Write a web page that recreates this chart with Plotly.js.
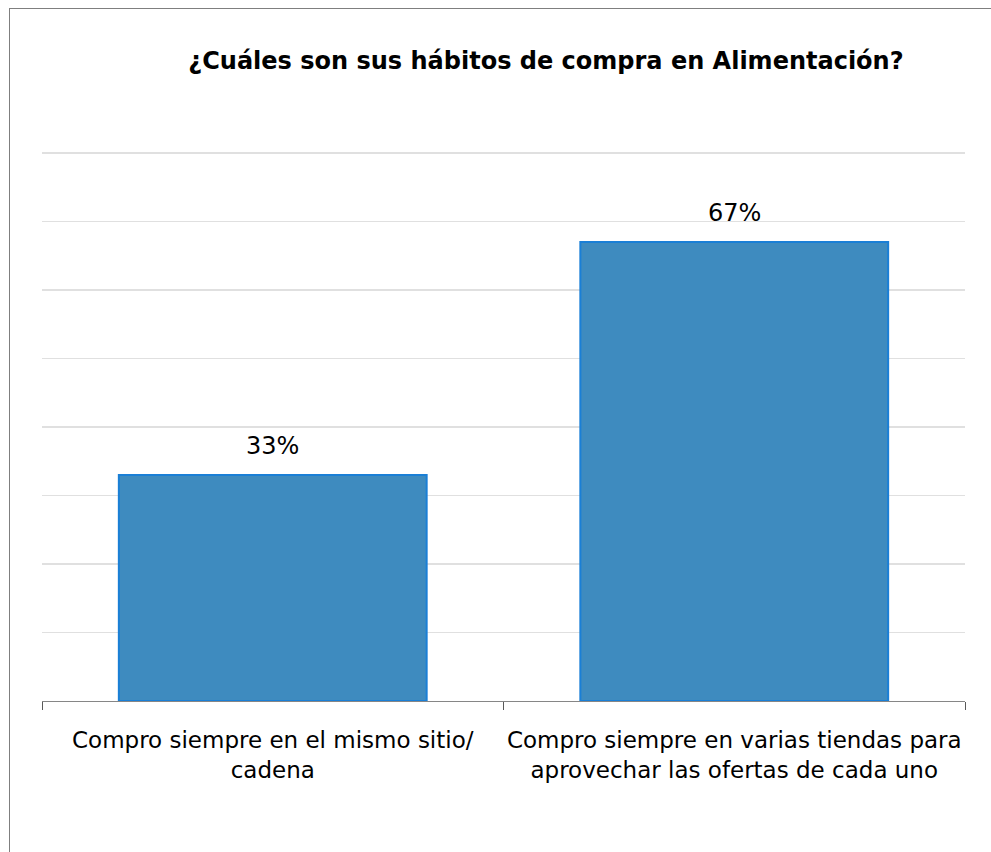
<!DOCTYPE html>
<html>
<head>
<meta charset="utf-8">
<script src="https://cdn.plot.ly/plotly-3.0.1.min.js"></script>
<style>
  html, body { margin: 0; padding: 0; background: #ffffff; overflow: hidden; }
  #frame { position: absolute; left: 9px; top: 8px; width: 1000px; height: 900px; border: 1px solid #7f7f7f; box-sizing: border-box; pointer-events: none; z-index: 5; }
  #chart { position: absolute; left: 0; top: 0; width: 991px; height: 852px; }
</style>
</head>
<body>
<div id="chart"></div>
<div id="frame"></div>
<script>
const categories = [
  "Compro siempre en el mismo sitio/<br>cadena",
  "Compro siempre en varias tiendas para<br>aprovechar las ofertas de cada uno"
];
const values = [33, 67];
const valueLabels = ["33%", "67%"];
const chartTitle = "¿Cuáles son sus hábitos de compra en Alimentación?";

const FONT = "'DejaVu Sans', Verdana, sans-serif";

const trace = {
  type: "bar",
  x: categories,
  y: values,
  marker: { color: "#3e8bbf", line: { color: "#1a7fd6", width: 2 } },
  hoverinfo: "skip"
};

const annotations = categories.map((c, i) => ({
  x: c, y: values[i], xref: "x", yref: "y",
  text: valueLabels[i], showarrow: false,
  yanchor: "bottom", yshift: 13,
  font: { family: FONT, size: 24, color: "#000000" }
}));

const layout = {
  width: 991, height: 852,
  margin: { l: 42, r: 26, t: 152, b: 151 },
  paper_bgcolor: "#ffffff",
  plot_bgcolor: "#ffffff",
  showlegend: false,
  bargap: 0.333,
  title: {
    text: "<b>" + chartTitle + "</b>",
    font: { family: FONT, size: 24, color: "#000000" },
    x: 0.546, xref: "paper", xanchor: "center",
    y: 1 - 61 / 852, yref: "container", yanchor: "middle"
  },
  xaxis: {
    type: "category",
    showgrid: false,
    showline: true, linecolor: "#868686", linewidth: 1,
    ticks: "outside", tickson: "boundaries", ticklen: 8, tickcolor: "#595959", tickwidth: 1,
    tickfont: { family: FONT, size: 23, color: "#000000" },
    tickangle: 0,
    ticklabelstandoff: 18,
    zeroline: false, fixedrange: true
  },
  yaxis: {
    range: [0, 80.15], dtick: 10, tick0: 0,
    showgrid: true, gridcolor: "#e0e0e0", gridwidth: 1.5,
    showticklabels: false, ticks: "",
    showline: false, zeroline: false, fixedrange: true
  },
  annotations: annotations
};

Plotly.newPlot("chart", [trace], layout, { displayModeBar: false, staticPlot: true });
</script>
</body>
</html>
